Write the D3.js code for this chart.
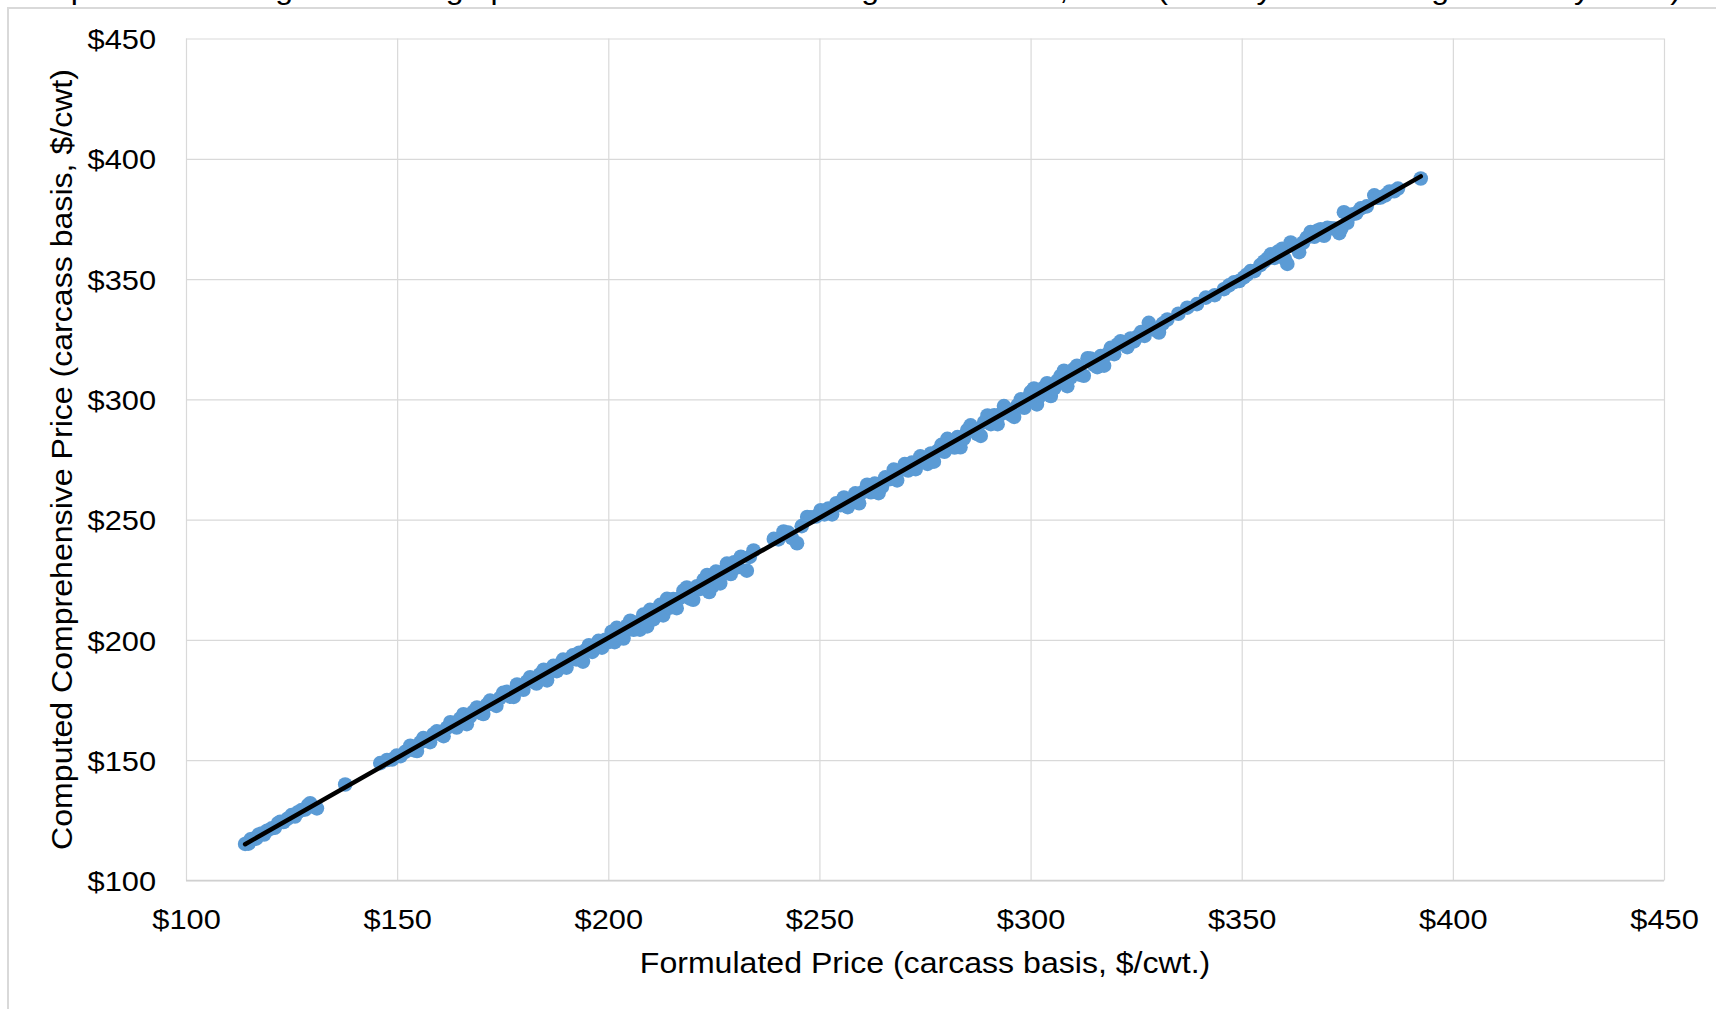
<!DOCTYPE html>
<html>
<head>
<meta charset="utf-8">
<script src="https://cdnjs.cloudflare.com/ajax/libs/d3/7.8.5/d3.min.js"></script>
<style>
  html, body { margin: 0; padding: 0; background: #ffffff; }
  svg { display: block; }
  text { font-family: "Liberation Sans", Arial, sans-serif; fill: #000; }
</style>
</head>
<body>
<svg id="chart" width="1716" height="1009"></svg>
<script>
// ---------------- DATA ----------------
const chartTitle = "Comparison of Weighted Average prices for Formula and Negotiated Cash, 2021 (Weekly Data through January 2023)";
const xAxisTitle = "Formulated Price (carcass basis, $/cwt.)";
const yAxisTitle = "Computed Comprehensive Price (carcass basis, $/cwt)";
const xTickValues = [100, 150, 200, 250, 300, 350, 400, 450];
const yTickValues = [100, 150, 200, 250, 300, 350, 400, 450];

const formulatedPrice = [
  114.0,114.8,115.3,115.9,116.6,117.2,117.9,118.5,119.2,120.3,121.0,121.8,122.3,123.1,124.0,125.0,125.8,126.5,127.4,128.2,128.9,129.4,130.1,131.0,
  137.7,
  146.0,147.6,148.8,149.9,150.8,151.9,153.1,153.9,154.7,155.5,156.2,157.0,157.8,158.6,159.4,160.2,161.0,161.8,162.6,163.4,164.1,164.9,165.7,166.5,
  167.2,168.0,168.9,169.6,170.4,171.2,172.0,172.8,173.5,174.3,175.1,176.0,176.8,177.6,178.4,179.1,179.9,180.7,181.5,182.3,183.0,183.8,184.7,185.5,
  186.2,187.0,187.8,188.5,189.3,190.1,190.8,191.6,192.4,193.1,194.0,194.7,195.4,196.2,197.0,197.7,198.5,199.3,200.0,
  200.8,201.5,202.0,202.9,203.6,204.4,205.2,206.0,206.8,207.5,208.3,209.2,209.9,210.7,211.5,212.3,213.0,213.9,214.6,215.4,216.2,217.0,217.8,218.6,
  219.4,220.1,221.0,221.8,222.6,223.4,223.9,224.7,225.5,226.5,227.2,228.1,229.0,229.8,230.6,231.4,232.8,233.5,234.4,
  239.2,240.3,241.5,242.6,243.5,244.7,245.8,247.1,248.0,249.2,250.3,251.2,252.1,253.0,
  254.0,255.0,255.8,256.7,257.6,258.5,259.4,260.3,261.3,262.2,263.1,264.0,264.8,265.6,266.5,267.6,268.4,269.3,270.2,271.0,271.9,272.8,273.9,274.7,
  275.6,276.4,277.1,278.0,278.9,279.6,280.3,281.2,282.0,282.7,283.4,284.2,285.0,285.8,286.6,287.4,288.2,289.0,289.8,290.6,291.4,292.2,292.9,293.7,
  294.5,295.3,296.1,296.9,297.7,298.5,299.3,300.0,300.8,301.5,302.3,303.1,303.9,304.8,305.6,306.3,307.1,307.9,308.7,309.5,310.2,311.0,311.8,312.6,
  313.5,314.2,315.0,315.8,316.6,317.4,318.2,319.0,319.8,320.6,321.3,322.1,322.9,323.7,324.5,325.3,326.2,327.0,328.0,328.9,329.6,330.4,331.3,332.4,
  335.0,337.1,339.4,341.5,343.6,345.8,347.0,348.2,349.4,350.5,351.3,352.1,353.0,354.4,355.3,356.1,356.9,357.8,358.6,359.6,360.2,360.8,361.6,362.4,
  363.6,364.5,365.4,366.3,367.2,368.0,368.7,369.5,370.3,371.1,372.0,373.1,373.6,374.2,375.0,376.0,377.1,378.2,379.6,381.4,382.2,382.9,384.0,385.0,
  386.1,387.0,392.4
];

const computedPrice = [
  115.2,115.3,117.1,117.3,117.4,119.1,119.5,119.1,120.7,121.7,121.9,123.8,124.4,124.3,125.6,127.2,126.6,128.4,129.3,129.5,131.3,132.1,130.7,130.0,
  139.9,
  148.8,150.1,150.3,151.9,151.7,153.5,156.0,154.2,153.8,157.4,159.2,158.1,157.5,160.8,162.0,160.9,160.0,163.5,165.8,164.4,163.6,167.3,169.1,165.0,
  168.0,170.1,171.9,169.8,169.2,173.0,174.8,173.3,172.6,175.8,178.0,178.4,176.4,176.3,181.5,180.3,179.3,182.7,184.5,182.7,181.9,185.7,187.6,183.2,
  186.8,189.2,187.0,189.8,191.8,188.5,191.7,193.6,191.9,194.7,191.0,195.8,197.8,195.0,197.3,199.6,196.8,200.1,199.1,
  203.4,199.1,205.0,203.7,200.6,205.9,208.0,204.2,207.2,204.3,210.5,205.6,212.5,208.6,212.4,214.6,210.2,217.1,213.4,217.0,213.2,217.5,220.5,221.8,
  217.2,216.7,222.3,221.2,225.0,227.0,219.9,222.4,228.4,223.5,228.4,231.7,227.4,232.3,230.2,234.6,228.8,234.5,237.2,
  242.0,241.8,245.1,244.6,242.3,240.2,247.3,251.1,251.0,251.3,253.9,252.2,254.6,252.2,
  256.8,256.0,259.2,255.2,258.2,260.9,256.8,261.5,264.5,261.4,265.0,261.0,263.6,267.6,266.8,270.8,266.3,270.7,273.1,270.4,273.7,271.0,276.3,274.9,
  273.2,277.5,274.1,278.6,281.1,278.2,283.6,282.0,280.0,284.3,280.1,283.7,287.2,289.2,287.0,285.6,284.8,290.5,293.3,289.7,293.4,289.7,293.8,297.2,
  295.7,293.7,292.7,297.5,300.0,296.5,300.3,303.0,304.5,297.9,301.5,304.9,306.7,301.4,304.6,307.7,309.7,311.9,305.5,309.1,312.5,314.0,310.2,309.8,
  317.1,317.0,314.3,313.4,318.0,314.0,318.8,321.4,318.8,322.8,324.1,322.9,321.7,325.3,324.1,326.1,328.0,326.4,331.8,329.3,328.8,327.8,331.5,333.2,
  335.6,338.1,339.6,342.3,343.3,345.8,347.4,348.7,349.2,350.7,351.9,353.3,353.3,355.8,357.3,358.5,360.3,358.8,361.4,362.6,358.4,356.3,365.2,363.8,
  361.2,365.1,367.2,369.5,367.6,370.2,370.7,368.0,371.3,371.1,371.0,369.1,371.0,377.8,373.4,376.8,377.3,379.4,380.2,384.8,383.8,383.9,384.8,386.4,
  386.5,387.6,391.8
];

// ---------------- LAYOUT ----------------
const W = 1716, H = 1009;
const plot = { left: 186, right: 1664, top: 38.5, bottom: 880.5 };
const svg = d3.select("#chart");

const x = d3.scaleLinear().domain([100, 450]).range([plot.left, plot.right]);
const y = d3.scaleLinear().domain([100, 450]).range([plot.bottom, plot.top]);

svg.append("rect").attr("x", 0).attr("y", 0).attr("width", W).attr("height", H).attr("fill", "#fff");

// chart title (mostly cut off at top edge, as in the reference)
const TX = 1.07;
svg.append("text")
  .attr("transform", `translate(3,-1.5) scale(${TX},1)`)
  .attr("font-size", 30)
  .text(chartTitle);

// outer chart-area border
svg.append("rect")
  .attr("x", 8).attr("y", 8).attr("width", 1800).attr("height", 1200)
  .attr("fill", "#fff").attr("stroke", "#d9d9d9").attr("stroke-width", 2);

// gridlines
const gridX = svg.append("g").attr("transform", `translate(0,${plot.bottom})`)
  .call(d3.axisBottom(x).tickValues(xTickValues).tickSize(-(plot.bottom - plot.top)).tickFormat(""));
gridX.select(".domain").remove();
gridX.selectAll("line").attr("stroke", "#d9d9d9").attr("stroke-width", 1.2);

const gridY = svg.append("g").attr("transform", `translate(${plot.left},0)`)
  .call(d3.axisLeft(y).tickValues(yTickValues).tickSize(-(plot.right - plot.left)).tickFormat(""));
gridY.select(".domain").remove();
gridY.selectAll("line").attr("stroke", "#d9d9d9").attr("stroke-width", 1.2);

// bottom axis line
svg.append("line")
  .attr("x1", plot.left).attr("x2", plot.right)
  .attr("y1", plot.bottom).attr("y2", plot.bottom)
  .attr("stroke", "#d0d0d0").attr("stroke-width", 1.5);

// points
const pts = formulatedPrice.map((v, i) => ({ fx: v, cy: computedPrice[i] }));
svg.append("g").selectAll("circle").data(pts).join("circle")
  .attr("cx", d => x(d.fx))
  .attr("cy", d => y(d.cy))
  .attr("r", 7.3)
  .attr("fill", "#5b9bd5");

// linear trendline (least squares)
const mx = d3.mean(pts, d => d.fx), my = d3.mean(pts, d => d.cy);
const sxy = d3.sum(pts, d => (d.fx - mx) * (d.cy - my));
const sxx = d3.sum(pts, d => (d.fx - mx) * (d.fx - mx));
const slope = sxy / sxx, intercept = my - slope * mx;
const [xmin, xmax] = d3.extent(formulatedPrice);
svg.append("line")
  .attr("x1", x(xmin)).attr("y1", y(intercept + slope * xmin))
  .attr("x2", x(xmax)).attr("y2", y(intercept + slope * xmax))
  .attr("stroke", "#000").attr("stroke-width", 4.5).attr("stroke-linecap", "round");

// tick labels
const SX = 1.1;
const xAxisG = svg.append("g").attr("transform", `translate(0,${plot.bottom})`)
  .call(d3.axisBottom(x).tickValues(xTickValues).tickSize(0).tickFormat(d => "$" + d));
xAxisG.select(".domain").remove();
xAxisG.selectAll("text")
  .attr("font-size", 28).attr("font-family", "Liberation Sans, Arial, sans-serif")
  .attr("fill", "#000")
  .attr("y", 38.5).attr("dy", "0.36em")
  .attr("transform", `scale(${SX},1)`);

const yAxisG = svg.append("g").attr("transform", `translate(${plot.left},0)`)
  .call(d3.axisLeft(y).tickValues(yTickValues).tickSize(0).tickFormat(d => "$" + d));
yAxisG.select(".domain").remove();
yAxisG.selectAll("text")
  .attr("font-size", 28).attr("font-family", "Liberation Sans, Arial, sans-serif")
  .attr("fill", "#000")
  .attr("x", -30 / SX).attr("dy", "0.36em")
  .attr("transform", `scale(${SX},1)`);

// axis titles
svg.append("text")
  .attr("transform", `translate(${(plot.left + plot.right) / 2},973) scale(${TX},1)`)
  .attr("text-anchor", "middle")
  .attr("font-size", 30)
  .text(xAxisTitle);

svg.append("text")
  .attr("transform", `translate(72,${(plot.top + plot.bottom) / 2}) rotate(-90) scale(${TX},1)`)
  .attr("text-anchor", "middle")
  .attr("font-size", 30)
  .text(yAxisTitle);
</script>
</body>
</html>
